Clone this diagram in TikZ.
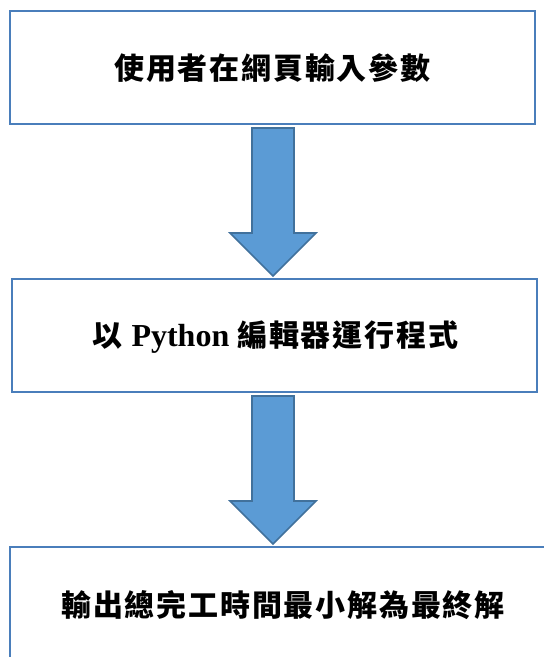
\documentclass[tikz,border=0pt]{standalone}
\usepackage{fontspec}
\setmainfont{Liberation Serif}
\newfontfamily\cjk[LetterSpace=6]{Noto Sans CJK TC}
\definecolor{boxline}{HTML}{4A7EBB}
\definecolor{arrfill}{HTML}{5B9BD5}
\definecolor{arrline}{HTML}{41719C}
\begin{document}
\begin{tikzpicture}[x=1pt,y=-1pt,
  flowbox/.style={draw=boxline,line width=2.2pt,fill=white},
  txt/.style={font=\fontsize{30}{34}\selectfont\bfseries},
  bigarrow/.style={draw=arrline,line width=1.6pt,fill=arrfill,line join=miter}]
\useasboundingbox (0,0) rectangle (544,657);
\fill[white] (0,0) rectangle (544,657);
\draw[flowbox] (10,11) rectangle (535,124);
\node[txt] (t1) at (272.5,68) {\cjk 使用者在網頁輸入參數};
\draw[flowbox] (12,279) rectangle (537,392);
\node[txt] (t2) at (275.5,337) {\cjk 以\ \normalfont\fontsize{32}{34}\selectfont\bfseries Python \cjk\fontsize{30}{34}\selectfont 編輯器運行程式};
\draw[flowbox] (10,547) rectangle (556,662);
\node[txt] (t3) at (283,605) {\cjk 輸出總完工時間最小解為最終解};
\draw[bigarrow] (252,128) -- (294,128) -- (294,233) -- (316,233) -- (273,276) -- (230,233) -- (252,233) -- cycle;
\draw[bigarrow] (252,396) -- (294,396) -- (294,501) -- (316,501) -- (273,544) -- (230,501) -- (252,501) -- cycle;
\end{tikzpicture}
\end{document}
